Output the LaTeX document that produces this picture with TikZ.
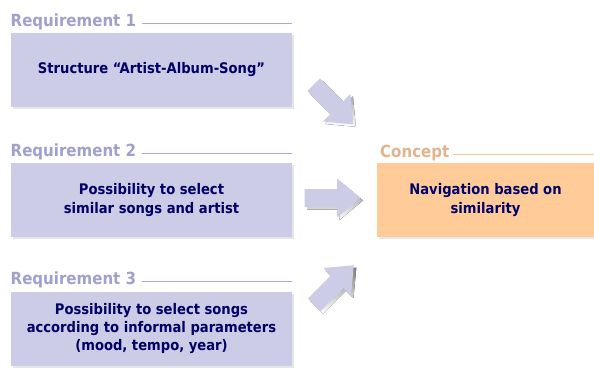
\documentclass[tikz,border=0pt]{standalone}
\usepackage{fontspec}
\setmainfont{DejaVu Sans Condensed}
\usetikzlibrary{shadows}

\definecolor{boxfill}{HTML}{CCCCE6}
\definecolor{reqtext}{HTML}{A0A0CE}
\definecolor{reqrule}{HTML}{A8A8D6}
\definecolor{ink}{HTML}{000066}
\definecolor{conceptfill}{HTML}{FFCC99}
\definecolor{concepttext}{HTML}{E3B38C}
\definecolor{conceptrule}{HTML}{F4C6A0}
\definecolor{shade}{HTML}{E6E6E6}

\tikzset{
  pics/blockarrow/.style={code={
    \fill[#1] (-28,-9) -- (4.5,-9) -- (4.5,-19.5) -- (28,0)
      -- (4.5,19.5) -- (4.5,9) -- (-28,9) -- cycle;
  }}
}

\begin{document}
\begin{tikzpicture}[x=1pt,y=-1pt,
  textbox/.style={rectangle, inner sep=0pt, align=center, text=ink,
    font=\bfseries\fontsize{14.6}{18.3}\selectfont,
    drop shadow={shadow xshift=2pt, shadow yshift=-2pt, fill=shade, opacity=1}},
  reqbox/.style={textbox, fill=boxfill, minimum width=281pt, minimum height=74pt},
  conceptbox/.style={textbox, fill=conceptfill, minimum width=217pt, minimum height=74pt},
  heading/.style={inner sep=0pt, anchor=base west, font=\bfseries\fontsize{16.7}{18}\selectfont},
  reqheading/.style={heading, text=reqtext},
  conceptheading/.style={heading, text=concepttext},
  reqrule/.style={draw=reqrule, line width=1pt},
  conceptrule/.style={draw=conceptrule, line width=1pt},
]
\useasboundingbox (0,0) rectangle (594,367);

% requirement boxes
\node[reqbox] (r1) at (151.5,70) {Structure “Artist-Album-Song”};
\node[reqbox] (r2) at (151.5,200) {Possibility to select\\similar songs and artist};
\node[reqbox] (r3) at (151.5,328.5) {Possibility to select songs\\according to informal parameters\\(mood, tempo, year)};

% concept box
\node[conceptbox] (c) at (485.5,200) {Navigation based on\\similarity};

% headings with their rules
\node[reqheading] (h1) at (10.5,26) {Requirement 1};
\node[reqheading] (h2) at (10.5,156) {Requirement 2};
\node[reqheading] (h3) at (10.5,284) {Requirement 3};
\node[conceptheading] (hc) at (380,157) {Concept};

\draw[reqrule] ([xshift=6pt]h1.mid east) -- (h1.mid east -| r1.east);
\draw[reqrule] ([xshift=6pt]h2.mid east) -- (h2.mid east -| r2.east);
\draw[reqrule] ([xshift=6pt]h3.mid east) -- (h3.mid east -| r3.east);
\draw[conceptrule] ([xshift=4pt]hc.mid east) -- (hc.mid east -| c.east);

% block arrows (shadow first, then the arrow)
\pic[rotate=-45] at (336,107) {blockarrow=shade};
\pic[rotate=-45] (a1) at (333.5,104.5) {blockarrow=boxfill};
\pic at (335,200.5) {blockarrow=shade};
\pic (a2) at (332.5,198) {blockarrow=boxfill};
\pic[rotate=45] at (336.5,287.5) {blockarrow=shade};
\pic[rotate=45] (a3) at (334,285) {blockarrow=boxfill};
\end{tikzpicture}
\end{document}
